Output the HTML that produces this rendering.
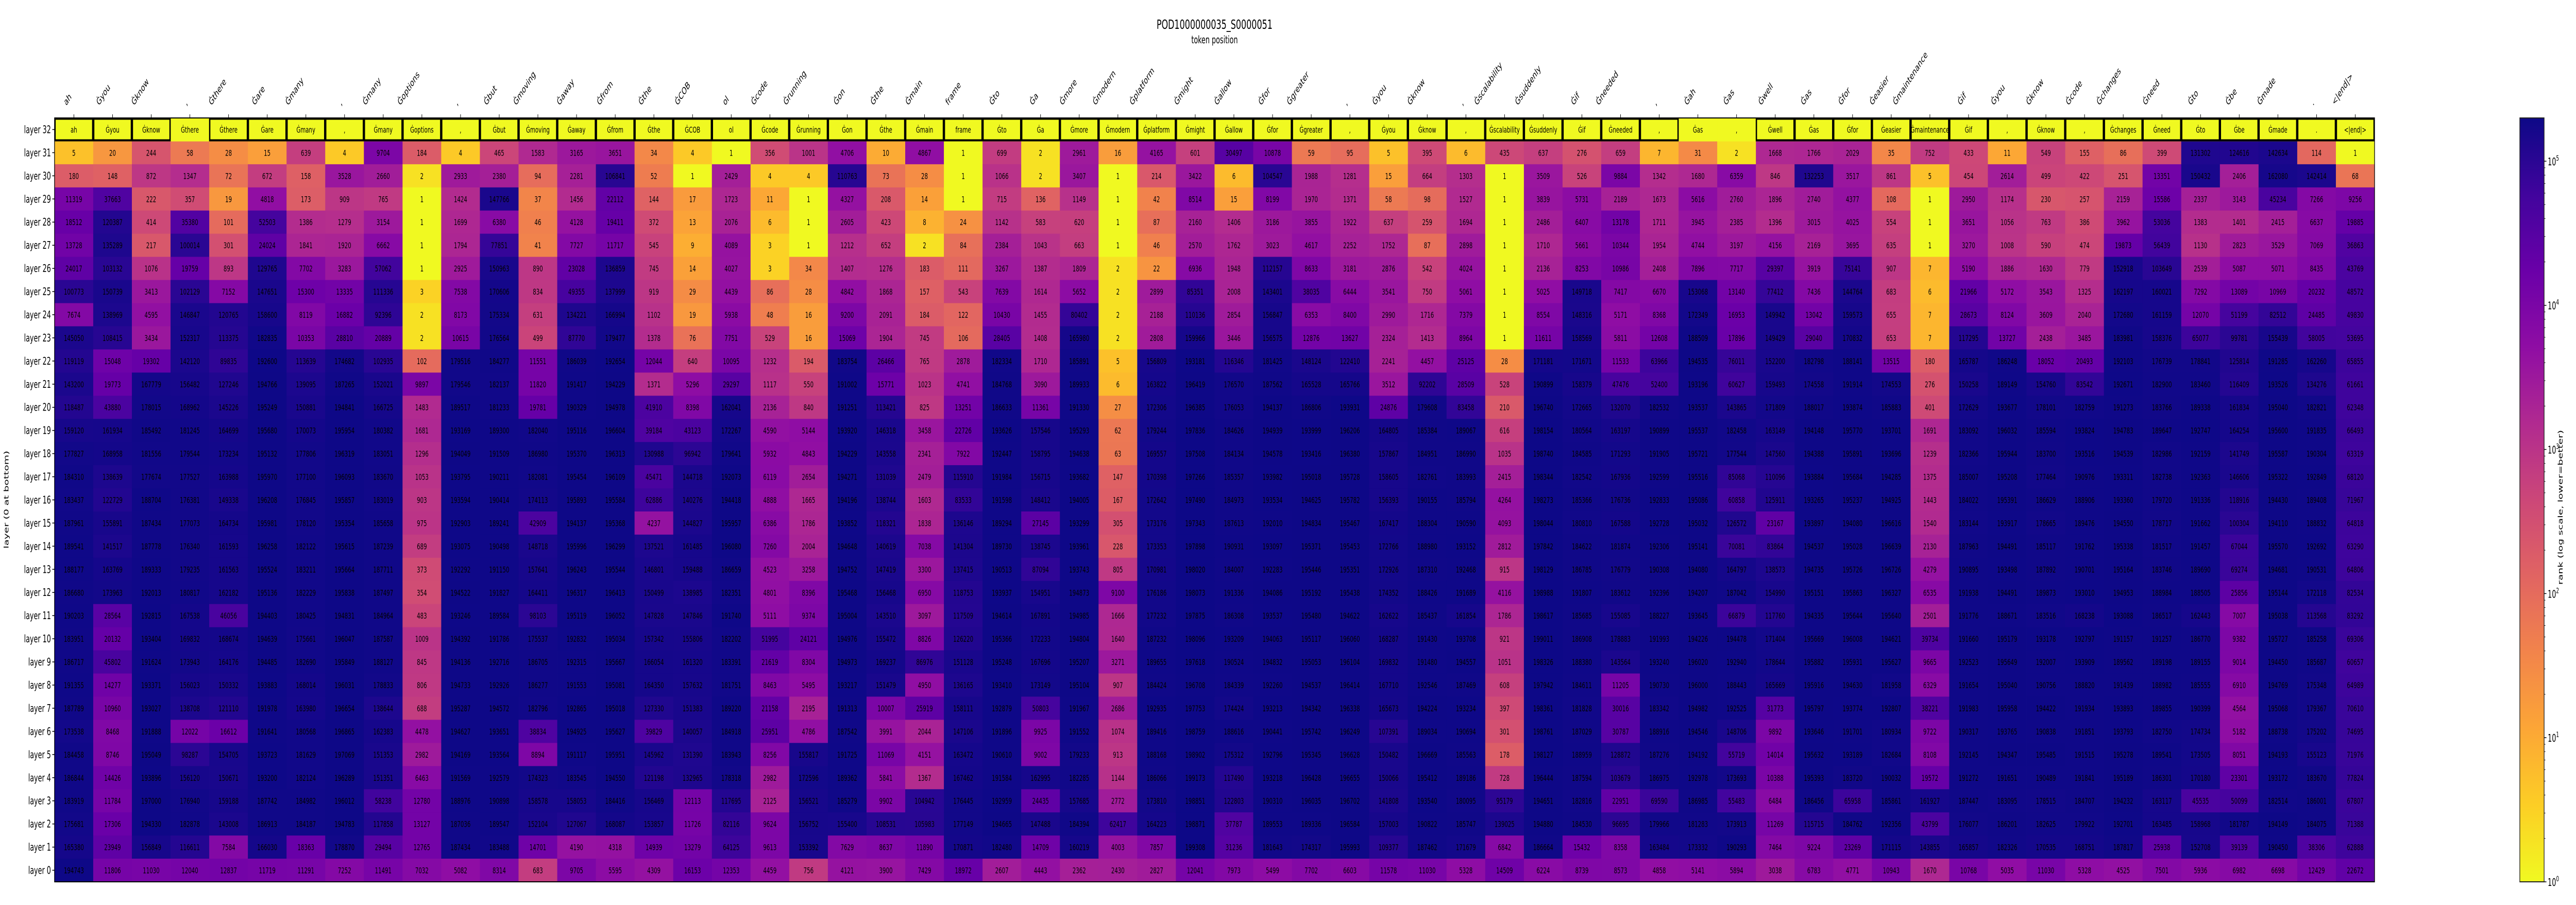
<!DOCTYPE html>
<html><head><meta charset="utf-8"><title>POD1000000035_S0000051</title>
<style>html,body{margin:0;padding:0;background:#fff;overflow:hidden;width:100%;height:100%;}svg{display:block;width:100vw;height:100vh;font-family:"DejaVu Sans","Liberation Sans",sans-serif;}</style>
</head><body>
<svg id="chart" xmlns="http://www.w3.org/2000/svg" viewBox="0 0 7839 1757" preserveAspectRatio="none">
<defs>
<linearGradient id="cbgrad" x1="0" y1="1" x2="0" y2="0">
<stop offset="0" stop-color="#f0f921"/><stop offset="0.1" stop-color="#fcce25"/><stop offset="0.2" stop-color="#fca636"/><stop offset="0.3" stop-color="#f2844b"/><stop offset="0.4" stop-color="#e16462"/><stop offset="0.5" stop-color="#cc4778"/><stop offset="0.6" stop-color="#b12a90"/><stop offset="0.7" stop-color="#8f0da4"/><stop offset="0.8" stop-color="#6a00a8"/><stop offset="0.9" stop-color="#41049d"/><stop offset="1" stop-color="#0d0887"/>
</linearGradient>
</defs>
<text x="3696" y="56" font-size="25" text-anchor="middle">POD1000000035_S0000051</text>
<text x="3696" y="84" font-size="20" text-anchor="middle">token position</text>
<text x="0" y="0" font-size="20" text-anchor="middle" transform="translate(26,970) rotate(-90)">layer (0 at bottom)</text>
<g id="cells"></g>
<g id="headers"></g>
<g id="xticks"></g>
<g id="yticks"></g>
<rect x="166" y="229" width="7060" height="1483" fill="none" stroke="#000" stroke-width="2"/>
<g id="colorbar">
<rect x="7668" y="229" width="74" height="1483" fill="url(#cbgrad)" stroke="#222" stroke-width="2"/>
</g>
<text x="0" y="0" font-size="20" text-anchor="middle" transform="translate(7798,985) rotate(-90)">rank (log scale, lower=better)</text>
</svg>
<script>
const tokenLabels = ["ah","Ġyou","Ġknow",",","Ġthere","Ġare","Ġmany",",","Ġmany","Ġoptions",",","Ġbut","Ġmoving","Ġaway","Ġfrom","Ġthe","ĠCOB","ol","Ġcode","Ġrunning","Ġon","Ġthe","Ġmain","frame","Ġto","Ġa","Ġmore","Ġmodern","Ġplatform","Ġmight","Ġallow","Ġfor","Ġgreater",",","Ġyou","Ġknow",",","Ġscalability","Ġsuddenly","Ġif","Ġneeded",",","Ġah","Ġas","Ġwell","Ġas","Ġfor","Ġeasier","Ġmaintenance","Ġif","Ġyou","Ġknow","Ġcode","Ġchanges","Ġneed","Ġto","Ġbe","Ġmade",".","<|end|>"];
const predLabels = ["ah","Ġyou","Ġknow","Ġthere","Ġthere","Ġare","Ġmany",",","Ġmany","Ġoptions",",","Ġbut","Ġmoving","Ġaway","Ġfrom","Ġthe","ĠCOB","ol","Ġcode","Ġrunning","Ġon","Ġthe","Ġmain","frame","Ġto","Ġa","Ġmore","Ġmodern","Ġplatform","Ġmight","Ġallow","Ġfor","Ġgreater",",","Ġyou","Ġknow",",","Ġscalability","Ġsuddenly","Ġif","Ġneeded",",","Ġas",",","Ġwell","Ġas","Ġfor","Ġeasier","Ġmaintenance","Ġif",",","Ġknow",",","Ġchanges","Ġneed","Ġto","Ġbe","Ġmade",".","<|end|>"];
const unboxedHeaders = [3, 42, 43];
const layerLabels = ["layer 32","layer 31","layer 30","layer 29","layer 28","layer 27","layer 26","layer 25","layer 24","layer 23","layer 22","layer 21","layer 20","layer 19","layer 18","layer 17","layer 16","layer 15","layer 14","layer 13","layer 12","layer 11","layer 10","layer 9","layer 8","layer 7","layer 6","layer 5","layer 4","layer 3","layer 2","layer 1","layer 0"];
const cbTickExps = [0,1,2,3,4,5];
// ranks per token column, from layer 31 down to layer 0
const ranksByToken = [
[5,180,11319,18512,13728,24017,100773,7674,145050,119119,143200,118487,159120,177827,184310,183437,187961,189541,188177,186680,190203,183951,186717,191355,187789,173538,184458,186844,183919,175681,165380,194743],
[20,148,37663,120387,135289,103132,150739,138969,108415,15048,19773,43880,161934,168958,138639,122729,155891,141517,163769,173963,28564,20132,45802,14277,10960,8468,8746,14426,11784,17306,23949,11806],
[244,872,222,414,217,1076,3413,4595,3434,19302,167779,178015,185492,181556,177674,188704,187434,187778,189333,192013,192815,193404,191624,193371,193027,191888,195049,193896,197000,194330,156849,11030],
[58,1347,357,35380,100014,19759,102129,146847,152317,142120,156482,168962,181245,179544,177527,176381,177073,176340,179235,180817,167538,169832,173943,156023,138708,12022,98287,156120,176940,182878,116611,12040],
[28,72,19,101,301,893,7152,120765,113375,89835,127246,145226,164699,173234,163988,149338,164734,161593,161563,162182,46056,168674,164176,150332,121110,16612,154705,150671,159188,143008,7584,12837],
[15,672,4818,52503,24024,129765,147651,158600,182835,192600,194766,195249,195680,195132,195970,196208,195981,196258,195524,195136,194403,194639,194485,193883,191978,191641,193723,193200,187742,186913,166030,11719],
[639,158,173,1386,1841,7702,15300,8119,10353,113639,139095,150881,170073,177806,177100,176845,178120,182122,183211,182229,180425,175661,182690,168014,163980,180568,181629,182124,184982,184187,18363,11291],
[4,3528,909,1279,1920,3283,13335,16882,28810,174682,187265,194841,195954,196319,196093,195857,195354,195615,195664,195838,194831,196047,195849,196031,196654,196865,197069,196289,196012,194783,178870,7252],
[9704,2660,765,3154,6662,57062,111336,92396,20889,102935,152021,166725,180382,183051,183670,183019,185658,187239,187711,187497,184964,187587,188127,178833,138644,162383,151353,151351,58238,117858,29494,11491],
[184,2,1,1,1,1,3,2,2,102,9897,1483,1681,1296,1053,903,975,689,373,354,483,1009,845,806,688,4478,2982,6463,12780,13127,12765,7032],
[4,2933,1424,1699,1794,2925,7538,8173,10615,179516,179546,189517,193169,194049,193795,193594,192903,193075,192292,194522,193246,194392,194136,194733,195287,194627,194169,191569,188976,187036,187434,5082],
[465,2380,147766,6380,77851,150963,170606,175334,176564,184277,182137,181233,189300,191509,190211,190414,189241,190498,191150,191827,189584,191786,192716,192926,194572,193651,193564,192579,190898,189547,183488,8314],
[1583,94,37,46,41,890,834,631,499,11551,11820,19781,182040,186980,182081,174113,42909,148718,157641,164411,98103,175537,186705,186277,182796,38834,8894,174323,158578,152104,14701,683],
[3165,2281,1456,4128,7727,23028,49355,134221,87770,186039,191417,190329,195116,195370,195454,195893,194137,195996,196243,196317,195119,192832,192315,191553,192865,194925,191117,183545,158053,127067,4190,9705],
[3651,106841,22112,19411,11717,136859,137999,166994,179477,192654,194229,194978,196604,196313,196109,195584,195368,196299,195544,196413,196052,195034,195667,195081,195018,195627,195951,194550,184416,168087,4318,5595],
[34,52,144,372,545,745,919,1102,1378,12044,1371,41910,39184,130988,45471,62886,4237,137521,146801,150499,147828,157342,166054,164350,127330,39829,145962,121198,156469,153857,14939,4309],
[4,1,17,13,9,14,29,19,76,640,5296,8398,43123,96942,144718,140276,144827,161485,159488,138985,147846,155806,161320,157632,151383,140057,131390,132965,12113,11726,13279,16153],
[1,2429,1723,2076,4089,4027,4439,5938,7751,10095,29297,162041,172267,179641,192073,194418,195957,196080,186659,182351,191740,182202,183391,181751,189220,184918,183943,178318,117695,82116,64125,12353],
[356,4,11,6,3,3,86,48,529,1232,1117,2136,4590,5932,6119,4888,6386,7260,4523,4801,5111,51995,21619,8463,21158,25951,8256,2982,2125,9624,9613,4459],
[1001,4,1,1,1,34,28,16,16,194,550,840,5144,4843,2654,1665,1786,2004,3258,8396,9374,24121,8304,5495,2195,4786,155817,172596,156521,156752,153392,756],
[4706,110763,4327,2605,1212,1407,4842,9200,15069,183754,191002,191251,193920,194229,194271,194196,193852,194648,194752,195468,195004,194976,194973,193217,191313,187542,191725,189362,185279,155400,7629,4121],
[10,73,208,423,652,1276,1868,2091,1904,26466,15771,113421,146318,143558,131039,138744,118321,140619,147419,156468,143510,155472,169237,151479,10007,3991,11069,5841,9902,108531,8637,3900],
[4867,28,14,8,2,183,157,184,745,765,1023,825,3458,2341,2479,1603,1838,7038,3300,6950,3097,8826,86976,4950,25919,2044,4151,1367,104942,105983,11890,7429],
[1,1,1,24,84,111,543,122,106,2878,4741,13251,22726,7922,115910,83533,136146,141304,137415,118753,117509,126220,151128,136165,158111,147106,163472,167462,176445,177149,170871,18972],
[699,1066,715,1142,2384,3267,7639,10430,28405,182334,184768,186633,193626,192447,191984,191598,189294,189730,190513,193937,194614,195366,195248,193410,192879,191896,190610,191584,192959,194665,182480,2607],
[2,2,136,583,1043,1387,1614,1455,1408,1710,3090,11361,157546,158795,156715,148412,27145,138745,87094,154951,167891,172233,167696,173149,50803,9925,9002,162995,24435,147488,14709,4443],
[2961,3407,1149,620,663,1809,5652,80402,165980,185891,189933,191330,195293,194638,193682,194005,193299,193961,193743,194873,194985,194804,195207,195104,191967,191552,179233,182285,157685,184394,160219,2362],
[16,1,1,1,1,2,2,2,2,5,6,27,62,63,147,167,305,228,805,9100,1666,1640,3271,907,2686,1074,913,1144,2772,62417,4003,2430],
[4165,214,42,87,46,22,2899,2188,2808,156809,163822,172306,179244,169557,170398,172642,173176,173353,170981,176186,177232,187232,189655,184424,192935,189416,188168,186066,173810,164223,7857,2827],
[601,3422,8514,2160,2570,6936,85351,110136,159966,193181,196419,196385,197836,197508,197266,197490,197343,197898,198020,198073,197875,198096,197618,196708,197753,198759,198902,199173,198851,198871,199308,12041],
[30497,6,15,1406,1762,1948,2008,2854,3446,116346,176570,176053,184626,184134,185357,184973,187613,190931,184007,191336,186308,193209,190524,184339,174424,188616,175312,117490,122803,37787,31236,7973],
[10878,104547,8199,3186,3023,112157,143401,156847,156575,181425,187562,194137,194939,194578,193982,193534,192010,193097,192283,194086,193537,194063,194832,192260,193213,190441,192796,193218,190310,189553,181643,5499],
[59,1988,1970,3855,4617,8633,38035,6353,12876,148124,165528,186806,193999,193416,195018,194625,194834,195371,195446,195192,195480,195117,195053,194537,194342,195742,195345,196428,196035,189336,174317,7702],
[95,1281,1371,1922,2252,3181,6444,8400,13627,122410,165766,193931,196206,196380,195728,195782,195467,195453,195351,195438,194622,196060,196104,196414,196338,196249,196628,196655,196702,196584,195993,6603],
[5,15,58,637,1752,2876,3541,2990,2324,2241,3512,24876,164805,157867,158605,156393,167417,172766,172926,174352,162622,168287,169832,167710,165673,107391,150482,150066,141808,157003,109377,11578],
[395,664,98,259,87,542,750,1716,1413,4457,92202,179608,185384,184951,182761,190155,188304,188980,187310,188426,185437,191430,191480,192546,194224,189034,196669,195412,193540,190822,187462,11030],
[6,1303,1527,1694,2898,4024,5061,7379,8964,25125,28509,83458,189067,186990,183993,185794,190590,193152,192468,191689,161854,193708,194557,187469,193234,190694,185563,189186,180095,185747,171679,5328],
[435,1,1,1,1,1,1,1,1,28,528,210,616,1035,2415,4264,4093,2812,915,4116,1786,921,1051,608,397,301,178,728,95179,139025,6842,14509],
[637,3509,3839,2486,1710,2136,5025,8554,11611,171181,190899,196740,198154,198740,198344,198273,198044,197842,198129,198988,198617,199011,198326,197942,198361,198761,198127,196444,194651,194880,186664,6224],
[276,526,5731,6407,5661,8253,149718,148316,158569,171671,158379,172665,180564,184585,182542,185366,180810,184622,186785,191807,185685,186908,188380,184611,181828,187029,188959,187594,182816,184530,15432,8739],
[659,9884,2189,13178,10344,10986,7417,5171,5811,11533,47476,132070,163197,171293,167936,176736,167588,181874,176779,183612,155085,178883,143564,11205,30016,30787,128872,103679,22951,96695,8358,8573],
[7,1342,1673,1711,1954,2408,6670,8368,12608,63966,52400,182532,190899,191905,192599,192833,192728,192306,190308,192396,188227,191993,193240,190730,183342,188916,187276,186975,69590,179966,163484,4858],
[31,1680,5616,3945,4744,7896,153068,172349,188509,194535,193196,193537,195537,195721,195516,195086,195032,195141,194080,194207,193645,194226,196020,196000,194982,194546,194192,192978,186985,181283,173332,5141],
[2,6359,2760,2385,3197,7717,13140,16953,17896,76011,60627,143865,182458,177544,85068,60858,126572,70081,164797,187042,66879,194478,192940,188443,192525,148706,55719,173693,55483,173913,190293,5894],
[1668,846,1896,1396,4156,29397,77412,149942,149429,152200,159493,171809,163149,147560,110096,125911,23167,83864,138573,154990,117760,171404,178644,165669,31773,9892,14014,10388,6484,11269,7464,3038],
[1766,132253,2740,3015,2169,3919,7436,13042,29040,182798,174558,188017,194148,194388,193884,193265,193897,194537,194735,195151,194335,195669,195882,195916,195797,193646,195632,195393,186456,115715,9224,6783],
[2029,3517,4377,4025,3695,75141,144764,159573,170832,188141,191914,193874,195770,195891,195684,195237,194080,195028,195726,195863,195644,196008,195931,194630,193774,191701,193189,183720,65958,184762,23269,4771],
[35,861,108,554,635,907,683,655,653,13515,174553,185883,193701,193696,194285,194925,196616,196639,196726,196327,195640,194621,195627,181958,192807,180934,182684,190032,185861,192356,171115,10943],
[752,5,1,1,1,7,6,7,7,180,276,401,1691,1239,1375,1443,1540,2130,4279,6535,2501,39734,9665,6329,38221,9722,8108,19572,161927,43799,143855,1670],
[433,454,2950,3651,3270,5190,21966,28673,117295,165787,150258,172629,183092,182366,185007,184022,183144,187963,190895,191938,191776,191660,192523,191654,191983,190317,192145,191272,187447,176077,165857,10768],
[11,2614,1174,1056,1008,1886,5172,8124,13727,186248,189149,193677,196032,195944,195208,195391,193917,194491,193498,194491,188671,195179,195649,195040,195958,193765,194347,191651,183095,186201,182326,5035],
[549,499,230,763,590,1630,3543,3609,2438,18052,154760,178101,185594,183700,177464,186629,178665,185117,187892,189873,183516,193178,192007,190756,194422,190838,195485,190489,178515,182625,170535,11030],
[155,422,257,386,474,779,1325,2040,3485,20493,83542,182759,193824,193516,190976,188906,189476,191762,190701,193010,168238,192797,193909,188820,191934,191851,191515,191841,184707,179922,168751,5328],
[86,251,2159,3962,19873,152918,162197,172680,183981,192103,192671,191273,194783,194539,193311,193360,194550,195338,195164,194953,193088,191157,189562,191439,193893,193793,195278,195189,194232,192701,187817,4525],
[399,13351,15586,53036,56439,103649,160021,161159,158376,176739,182900,183766,189647,182986,182738,179720,178717,181517,183746,188984,186517,191257,189198,188982,189855,182750,189541,186301,163117,163485,25938,7501],
[131302,150432,2337,1383,1130,2539,7292,12070,65077,178841,183460,189338,192747,192159,192363,191336,191662,191457,189690,188505,162443,186770,189155,185555,190399,174734,173505,170180,45535,158968,152708,5936],
[124616,2406,3143,1401,2823,5087,13089,51199,99781,125814,116409,161834,164254,141749,146606,118916,100304,67044,69274,25856,7007,9382,9014,6910,4564,5182,8051,23301,50099,181787,39139,6982],
[142634,162080,45234,2415,3529,5071,10969,82512,155439,191285,193526,195040,195600,195587,195322,194430,194110,195570,194681,195144,195038,195727,194450,194769,195068,188738,194193,193172,182514,194149,190450,6698],
[114,142414,7266,6637,7069,8435,20232,24485,58005,162260,134276,182821,191835,190304,192849,189408,188832,192692,190531,172118,113568,185258,185687,175348,179367,175202,155123,183670,186001,184075,38306,12429],
[1,68,9256,19885,36863,43769,48572,49830,53695,65855,61661,62348,66493,63319,68120,71967,64818,63290,64806,82534,83292,69306,60657,64989,70610,74695,71976,77824,67807,71388,62888,22672]
];

const NS = "http://www.w3.org/2000/svg";
const X0 = 166, X1 = 7226, Y0 = 229, Y1 = 1712;
const nCols = tokenLabels.length, nRows = layerLabels.length;
const CW = (X1 - X0) / nCols, RH = (Y1 - Y0) / nRows;
const VMAX = 199500;
const LOGMAX = Math.log10(VMAX);
const PLASMA = [[13,8,135],[65,4,157],[106,0,168],[143,13,164],[177,42,144],[204,71,120],[225,100,98],[242,132,75],[252,166,54],[252,206,37],[240,249,33]];

function xCol(i){ return X0 + i * CW; }
function yRow(r){ return Y0 + r * RH; }
function plasma(t){
  t = Math.max(0, Math.min(1, t));
  const p = t * 10, i = Math.min(9, Math.floor(p)), f = p - i;
  const a = PLASMA[i], b = PLASMA[i+1];
  return "rgb(" + [0,1,2].map(k => Math.round(a[k] + (b[k]-a[k]) * f)).join(",") + ")";
}
function colorFor(v){ return plasma(1 - Math.log10(Math.max(1, v)) / LOGMAX); }
function cbY(v){ return Y1 - (Math.log10(v) / LOGMAX) * (Y1 - Y0); }
function mk(tag, attrs, parent){
  const el = document.createElementNS(NS, tag);
  for (const k in attrs) el.setAttribute(k, attrs[k]);
  parent.appendChild(el);
  return el;
}

const cellsG = document.getElementById("cells");
const headG = document.getElementById("headers");
const xtG = document.getElementById("xticks");
const ytG = document.getElementById("yticks");
const cbG = document.getElementById("colorbar");

for (let c = 0; c < nCols; c++) {
  const col = ranksByToken[c];
  for (let j = 0; j < col.length; j++) {
    const r = j + 1;
    const v = col[j];
    const rect = mk("rect", {x: xCol(c), y: yRow(r), width: CW + 0.6, height: RH + 0.6, fill: colorFor(v)}, cellsG);
    
    
    const t = mk("text", {x: xCol(c) + CW/2, y: yRow(r) + RH/2 + 6, "font-size": 16, "text-anchor": "middle", fill: "#000"}, cellsG);
    t.textContent = String(v);
    
    
  }
}

for (let c = 0; c < nCols; c++) {
  const rect = mk("rect", {x: xCol(c), y: Y0, width: CW + 0.6, height: RH + 0.6, fill: "#f0f921"}, headG);
  
  
  const t = mk("text", {x: xCol(c) + CW/2, y: Y0 + RH/2 + 6, "font-size": 16, "text-anchor": "middle", fill: "#000"}, headG);
  t.textContent = predLabels[c];
  
  
}
for (let c = 0; c < nCols; c++) {
  if (unboxedHeaders.indexOf(c) >= 0) continue;
  const b = mk("rect", {x: xCol(c) + 1.5, y: Y0 + 1.5, width: CW - 3, height: RH - 3, fill: "none", stroke: "#000", "stroke-width": 4}, headG);
  
  
}

for (let c = 0; c < nCols; c++) {
  const cx = xCol(c) + CW/2;
  const tk = mk("line", {x1: cx, y1: Y0 - 7, x2: cx, y2: Y0, stroke: "#000", "stroke-width": 1.5}, xtG);
  
  
  const t = mk("text", {x: 0, y: 0, "font-size": 19, fill: "#000"}, xtG);
  t.textContent = tokenLabels[c];
  
  
  let L = 0;
  try { L = t.getComputedTextLength(); } catch(e) { L = 0; }
  if (!L) L = tokenLabels[c].length * 11;
  const k = 0.7071, d = 4.5;
  const R = cx - 3, B = 209;
  const x0 = R - (L + d) * k, y0 = B - d * k;
  t.setAttribute("transform", "translate(" + x0.toFixed(1) + "," + y0.toFixed(1) + ") rotate(-45)");
}

for (let r = 0; r < nRows; r++) {
  const cy = yRow(r) + RH/2;
  const tk = mk("line", {x1: X0 - 7, y1: cy, x2: X0, y2: cy, stroke: "#000", "stroke-width": 1.5}, ytG);
  
  
  const t = mk("text", {x: X0 - 11, y: cy + 7, "font-size": 20, "text-anchor": "end", fill: "#000"}, ytG);
  t.textContent = layerLabels[r];
  
  
}

const CBX = 7742;
for (const e of cbTickExps) {
  const y = cbY(Math.pow(10, e));
  const tk = mk("line", {x1: CBX, y1: y, x2: CBX + 7, y2: y, stroke: "#000", "stroke-width": 1.5}, cbG);
  
  
  const t = mk("text", {x: CBX + 11, y: y + 8, "font-size": 20, fill: "#000"}, cbG);
  t.textContent = "10";
  const sup = mk("tspan", {dy: -9, "font-size": 14}, t);
  sup.textContent = String(e);
  
  
  for (let m = 2; m <= 9; m++) {
    const v = m * Math.pow(10, e);
    if (v > VMAX) break;
    const ym = cbY(v);
    const mt = mk("line", {x1: CBX, y1: ym, x2: CBX + 4, y2: ym, stroke: "#000", "stroke-width": 1}, cbG);
    
    
  }
}
</script>
</body></html>
